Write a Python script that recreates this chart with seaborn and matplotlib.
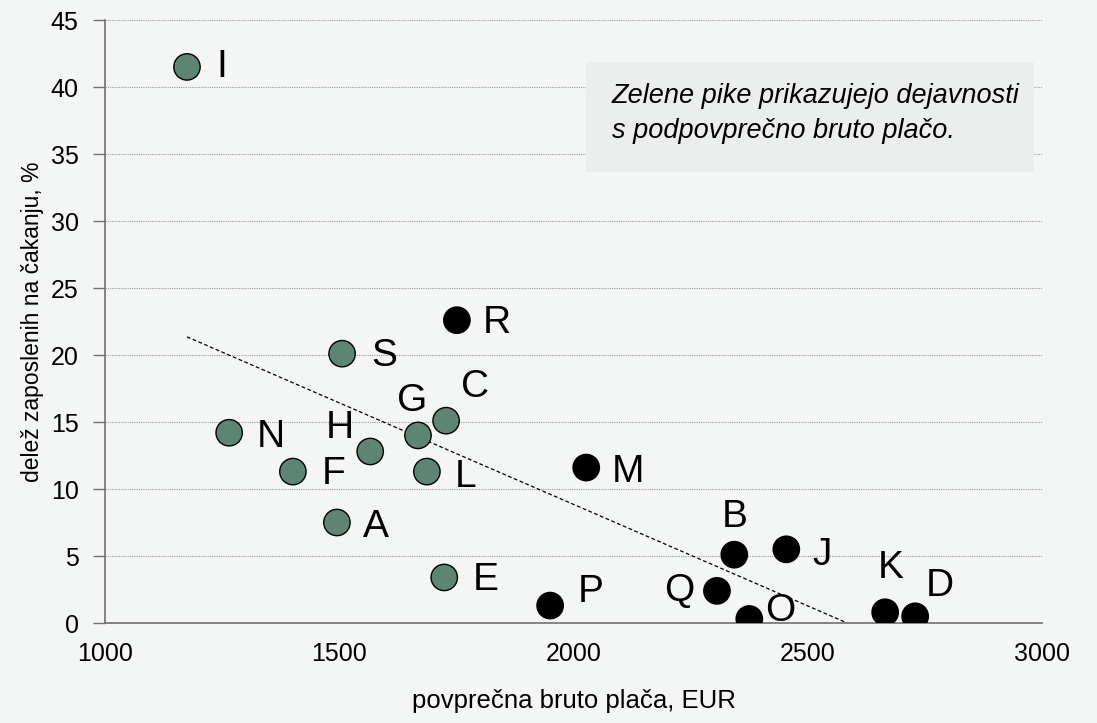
import numpy as np
import matplotlib
matplotlib.use('Agg')
import matplotlib.pyplot as plt
import pandas as pd
import seaborn as sns
from matplotlib.patches import Rectangle

labels = ['I', 'N', 'F', 'A', 'S', 'H', 'G', 'C', 'L', 'E',
          'R', 'M', 'P', 'B', 'J', 'Q', 'O', 'K', 'D']
placa = [1175, 1265, 1401, 1495, 1506, 1566, 1668, 1728, 1687, 1724,
         1751, 2027, 1950, 2343, 2454, 2306, 2375, 2665, 2729]
delez = [41.5, 14.2, 11.3, 7.5, 20.1, 12.8, 14.0, 15.1, 11.3, 3.4,
         22.6, 11.6, 1.3, 5.1, 5.5, 2.4, 0.3, 0.8, 0.5]
podpovprecna = [True] * 10 + [False] * 9

# label offsets in points (layout only)
offsets = {'I': (25, 0), 'N': (30, -3), 'F': (29, -2), 'A': (28, -3),
           'S': (30, -2), 'H': (-22, 17), 'G': (-4, 25), 'C': (21, 24),
           'L': (28, -4), 'E': (30, -2), 'R': (29, -2), 'M': (30, -3),
           'P': (29, 10), 'B': (0, 27), 'J': (26, -4), 'Q': (-27, 0),
           'O': (22, 6), 'K': (4, 32), 'D': (18, 22)}

df = pd.DataFrame({'placa': placa, 'delez': delez, 'label': labels,
                   'skupina': ['pod' if p else 'nad' for p in podpovprecna]})

bg = '#f4f5f5'
sns.set_style('white')
plt.rcParams['font.family'] = ['Liberation Sans Narrow', 'Liberation Sans', 'DejaVu Sans']
plt.rcParams['text.color'] = 'black'
plt.rcParams['axes.labelcolor'] = 'black'
plt.rcParams['xtick.color'] = 'black'
plt.rcParams['ytick.color'] = 'black'

fig = plt.figure(figsize=(10.97, 7.23), dpi=100, facecolor=bg)
ax = fig.add_axes([0.0957, 0.1383, 0.8543, 0.834])
ax.set_facecolor(bg)

for y in range(5, 50, 5):
    ax.axhline(y, color='#9a9a9a', lw=0.8, ls=(0, (1, 1)), zorder=0)

# trend line (OLS), from min x to the zero crossing
k, n = np.polyfit(df['placa'], df['delez'], 1)
x0 = df['placa'].min()
x1 = -n / k
ax.plot([x0, x1], [k * x0 + n, 0], color='black', lw=0.9, ls=(0, (3, 2)), zorder=1)

sns.scatterplot(data=df, x='placa', y='delez', hue='skupina',
                palette={'pod': '#5e8473', 'nad': 'black'},
                s=360, edgecolor='black', linewidth=1.0, legend=False, ax=ax, zorder=3)

for lab, xv, yv in zip(labels, placa, delez):
    ax.annotate(lab, (xv, yv), xytext=offsets[lab], textcoords='offset points',
                ha='center', va='center', fontsize=28, color='black')

ax.set_xlim(1000, 3000)
ax.set_ylim(0, 45)
ax.set_xticks(range(1000, 3001, 500))
ax.set_yticks(range(0, 46, 5))
ax.tick_params(axis='y', length=9, width=1, color='#707070', labelcolor='black',
               labelsize=18, pad=10, direction='out', left=True)
ax.tick_params(axis='x', length=0, labelcolor='black', labelsize=18, pad=14)
ax.set_xlabel('povprečna bruto plača, EUR', fontsize=18.5, labelpad=16, color='black')
ax.set_ylabel('delež zaposlenih na čakanju, %', fontsize=16.5, labelpad=5, color='black')
for side in ['top', 'right']:
    ax.spines[side].set_visible(False)
for side in ['left', 'bottom']:
    ax.spines[side].set_color('#707070')
    ax.spines[side].set_linewidth(1.2)

ax.add_patch(Rectangle((0.513, 0.748), 0.478, 0.182, transform=ax.transAxes,
                       facecolor='#eceeee', edgecolor='none', zorder=4, clip_on=False))
ax.text(0.541, 0.845, 'Zelene pike prikazujejo dejavnosti\ns podpovprečno bruto plačo.',
        transform=ax.transAxes, fontsize=19.5, style='italic', va='center', ha='left',
        linespacing=1.45, zorder=5, color='black')

fig.savefig('out.png', dpi=100, facecolor=bg)
